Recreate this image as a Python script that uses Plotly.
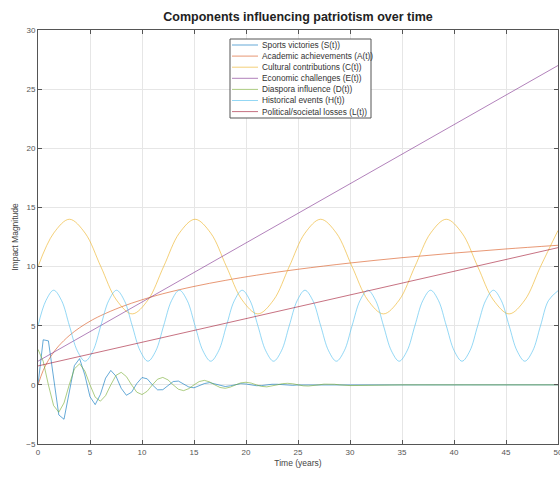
import plotly.graph_objects as go

# ---------------- data ----------------
series_names = [
    "Sports victories (S(t))",
    "Academic achievements (A(t))",
    "Cultural contributions (C(t))",
    "Economic challenges (E(t))",
    "Diaspora influence (D(t))",
    "Historical events (H(t))",
    "Political/societal losses (L(t))",
]

S_t = [0, 0.5, 1, 1.5, 2, 2.5, 3, 3.5, 4, 4.5, 5, 5.5, 6, 6.5, 7, 7.5, 8, 8.5, 9, 9.5,
       10, 10.5, 11, 11.5, 12, 12.5, 13, 13.5, 14, 14.5, 15, 15.5, 16, 16.5, 17, 17.5,
       18, 18.5, 19, 19.5, 20, 20.5, 21, 21.5, 22, 22.5, 23, 23.5, 24, 24.5, 25, 30, 35, 40, 45, 50]
S_v = [0, 3.81, 3.72, 0.52, -2.54, -2.91, -0.77, 1.63, 2.22, 0.84, -1.00, -1.67, -0.81, 0.57,
       1.22, 0.73, -0.29, -0.88, -0.62, 0.11, 0.62, 0.51, 0.00, -0.42, -0.41, -0.05, 0.28, 0.32,
       0.08, -0.18, -0.25, -0.09, 0.11, 0.19, 0.09, -0.07, -0.14, -0.08, 0.03, 0.10, 0.07,
       -0.01, -0.07, -0.06, 0.00, 0.05, 0.05, 0.01, -0.03, -0.04, -0.01, 0.0, 0.0, 0.0, 0.0, 0.0]

A_t = [0, 0.5, 1, 1.5, 2, 3, 4, 5, 6, 8, 10, 12, 15, 18, 21, 25, 30, 35, 40, 45, 50]
A_v = [0, 1.22, 2.08, 2.75, 3.30, 4.16, 4.83, 5.38, 5.84, 6.59, 7.19, 7.70, 8.32, 8.83,
       9.27, 9.77, 10.30, 10.75, 11.14, 11.49, 11.80]

C_t = [0, 1.51, 3.02, 4.53, 6.04, 7.55, 9.06, 10.57, 12.08, 13.59, 15.1, 16.61, 18.12,
       19.63, 21.14, 22.65, 24.16, 25.67, 27.18, 28.69, 30.2, 31.71, 33.22, 34.73, 36.24,
       37.75, 39.26, 40.77, 42.28, 43.79, 45.3, 46.81, 48.32, 50]
C_v = [10, 12.83, 14, 12.83, 10, 7.17, 6, 7.17, 10, 12.83, 14, 12.83, 10, 7.17, 6, 7.17,
       10, 12.83, 14, 12.83, 10, 7.17, 6, 7.17, 10, 12.83, 14, 12.83, 10, 7.17, 6, 7.17,
       10, 13.05]

E_t = [0, 50]
E_v = [2.0, 27.0]

D_t = [0, 0.5, 1, 1.5, 2, 2.5, 3, 3.5, 4, 4.5, 5, 5.5, 6, 6.5, 7, 7.5, 8, 8.5, 9, 9.5,
       10, 10.5, 11, 11.5, 12, 12.5, 13, 13.5, 14, 14.5, 15, 15.5, 16, 16.5, 17, 17.5,
       18, 18.5, 19, 19.5, 20, 20.5, 21, 21.5, 22, 22.5, 23, 23.5, 24, 24.5, 25, 25.5,
       26, 26.5, 27, 27.5, 28, 28.5, 29, 29.5, 30, 35, 40, 45, 50]
D_v = [3.0, 1.99, 0, -1.75, -2.31, -1.53, 0, 1.35, 1.78, 1.18, 0, -1.04, -1.38, -0.91,
       0, 0.80, 1.06, 0.70, 0, -0.62, -0.82, -0.54, 0, 0.48, 0.63, 0.42, 0, -0.37, -0.49,
       -0.32, 0, 0.28, 0.38, 0.25, 0, -0.22, -0.29, -0.19, 0, 0.17, 0.22, 0.15, 0, -0.13,
       -0.17, -0.11, 0, 0.10, 0.13, 0.09, 0, -0.08, -0.10, -0.07, 0, 0.06, 0.08, 0.05, 0,
       -0.05, -0.06, 0.0, 0.0, 0.0, 0.0]

H_t = [0, 0.76, 1.51, 2.27, 3.02, 3.78, 4.53, 5.29, 6.04, 6.8, 7.55, 8.31, 9.06, 9.82,
       10.57, 11.33, 12.08, 12.84, 13.59, 14.35, 15.1, 15.86, 16.61, 17.37, 18.12, 18.88,
       19.63, 20.39, 21.14, 21.9, 22.65, 23.41, 24.16, 24.92, 25.67, 26.43, 27.18, 27.94,
       28.69, 29.45, 30.2, 30.96, 31.71, 32.47, 33.22, 33.98, 34.73, 35.49, 36.24, 37.0,
       37.75, 38.51, 39.26, 40.02, 40.77, 41.53, 42.28, 43.04, 43.79, 44.55, 45.3, 46.06,
       46.81, 47.57, 48.32, 49.08, 50]
H_v = [5, 7.12, 8, 7.12, 5, 2.88, 2, 2.88] * 8 + [5, 7.12, 7.96]

L_t = [0, 50]
L_v = [1.6, 11.6]

x_ticks = [0, 5, 10, 15, 20, 25, 30, 35, 40, 45, 50]
y_ticks = [-5, 0, 5, 10, 15, 20, 25, 30]

# ---------------- styling ----------------
colors = ["#0072BD", "#D95319", "#EDB120", "#7E2F8E", "#77AC30", "#4DBEEE", "#A2142F"]
shapes_ = ["linear", "spline", "spline", "linear", "linear", "spline", "linear"]
data = [(S_t, S_v), (A_t, A_v), (C_t, C_v), (E_t, E_v), (D_t, D_v), (H_t, H_v), (L_t, L_v)]

FONT = "Liberation Sans, Arial, sans-serif"
ML, MR, MT, MB = 38, 2, 30, 35
W, H = 560, 479
PW, PH = W - ML - MR, H - MT - MB
LINE_OPACITY = 0.6

fig = go.Figure()
for name, (t, v), c, sh in zip(series_names, data, colors, shapes_):
    fig.add_trace(go.Scatter(x=t, y=v, mode="lines", name=name, showlegend=False,
                             line=dict(color=c, width=1, shape=sh), opacity=LINE_OPACITY,
                             hoverinfo="skip"))

axis_common = dict(showgrid=True, gridcolor="#e6e6e6", gridwidth=1, zeroline=False,
                   showline=True, linecolor="#555555", linewidth=1, mirror="ticks",
                   ticks="inside", ticklen=4, tickcolor="#555555", automargin=False,
                   ticklabeloverflow="allow",
                   tickfont=dict(family=FONT, size=8, color="#555555"))

fig.update_layout(
    width=W, height=H,
    margin=dict(l=ML, r=MR, t=MT, b=MB, autoexpand=False),
    paper_bgcolor="white", plot_bgcolor="white",
    hovermode=False,
    title=dict(text="<b>Components influencing patriotism over time</b>",
               x=(ML + PW / 2) / W, xanchor="center", y=1 - 17 / H, yanchor="middle",
               font=dict(family=FONT, size=12.5, color="#222222")),
    xaxis=dict(range=[0, 50], tickvals=x_ticks, **axis_common,
               title=dict(text="Time (years)", standoff=4,
                          font=dict(family=FONT, size=8.5, color="#444444"))),
    yaxis=dict(range=[-5, 30], tickvals=y_ticks, **axis_common,
               title=dict(text="Impact Magnitude", standoff=6,
                          font=dict(family=FONT, size=8.5, color="#444444"))),
)

# ---------------- legend box (drawn to match MATLAB's compact legend) ----------------
def px2paper_x(px):
    return (px - ML) / PW

def px2paper_y(py):
    return (H - MB - py) / PH

fig.add_shape(type="rect", xref="paper", yref="paper",
              x0=px2paper_x(230), x1=px2paper_x(371), y0=px2paper_y(118), y1=px2paper_y(39),
              line=dict(color="#555555", width=1), fillcolor="white", layer="above")
for i, (name, c) in enumerate(zip(series_names, colors)):
    py = 45 + 11.1 * i
    fig.add_shape(type="line", xref="paper", yref="paper",
                  x0=px2paper_x(232), x1=px2paper_x(258), y0=px2paper_y(py), y1=px2paper_y(py),
                  line=dict(color=c, width=1), opacity=LINE_OPACITY, layer="above")
    fig.add_annotation(xref="paper", yref="paper", x=px2paper_x(260), y=px2paper_y(py),
                       xanchor="left", yanchor="middle", showarrow=False, text=name,
                       font=dict(family=FONT, size=8.3, color="#333333"))

fig.write_html("out.html",
               config={"displayModeBar": False, "staticPlot": True},
               post_script="document.body.style.margin='0px';document.body.style.overflow='hidden';")
